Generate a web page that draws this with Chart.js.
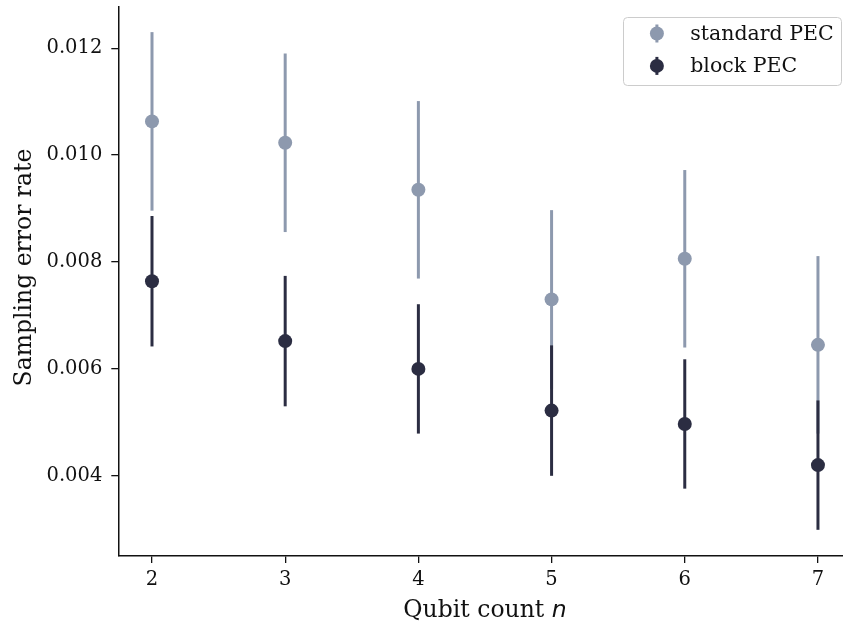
<!DOCTYPE html>
<html>
<head>
<meta charset="utf-8">
<script src="https://cdn.jsdelivr.net/npm/chart.js@4"></script>
<style>
  html, body { margin: 0; padding: 0; background: #fff; }
  #wrap { width: 843px; height: 623px; }
</style>
</head>
<body>
<div id="wrap"><canvas id="errChart" width="843" height="623"></canvas></div>
<script>
// values
const qubits = [2, 3, 4, 5, 6, 7];
const standardRate = [0.01063, 0.01023, 0.00935, 0.00730, 0.00806, 0.00645];
const standardErr  = [0.00167, 0.00167, 0.00166, 0.00167, 0.00166, 0.00166];
const blockRate    = [0.00764, 0.00652, 0.00600, 0.00522, 0.00497, 0.00420];
const blockErr     = [0.00122, 0.00122, 0.00121, 0.00122, 0.00121, 0.00121];
const yTicks = [0.004, 0.006, 0.008, 0.010, 0.012];
const xTicks = [2, 3, 4, 5, 6, 7];
const seriesLabels = ['standard PEC', 'block PEC'];
const seriesColors = ['#8d99ae', '#2b2d42'];

const INK = '#111111';
const SERIF = '"DejaVu Serif", serif';

// vertical error bars, drawn under each dataset's markers
const errorBars = {
  id: 'errorBars',
  beforeDatasetDraw(chart, args) {
    const ds = chart.data.datasets[args.index];
    const y = chart.scales.y, ctx = chart.ctx;
    ctx.save();
    ctx.strokeStyle = ds.backgroundColor;
    ctx.lineWidth = 3;
    args.meta.data.forEach((pt, i) => {
      const v = ds.data[i].y, e = ds.errors[i];
      ctx.beginPath();
      ctx.moveTo(pt.x, y.getPixelForValue(v + e));
      ctx.lineTo(pt.x, y.getPixelForValue(v - e));
      ctx.stroke();
    });
    ctx.restore();
  }
};

// matplotlib-like legend box + axis titles (x title has an italic n)
const decorations = {
  id: 'decorations',
  afterDraw(chart) {
    const ctx = chart.ctx, area = chart.chartArea;
    const xs = chart.scales.x;

    // legend
    const w = 218, h = 68;
    const x0 = area.right - 1.5 - w, y0 = area.top + 10.5;
    ctx.save();
    ctx.beginPath();
    ctx.roundRect(x0, y0, w, h, 4);
    ctx.fillStyle = 'rgba(255,255,255,0.8)';
    ctx.fill();
    ctx.strokeStyle = '#cccccc';
    ctx.lineWidth = 1;
    ctx.stroke();
    ctx.font = '20.5px ' + SERIF;
    ctx.textBaseline = 'middle';
    ctx.textAlign = 'left';
    chart.data.datasets.forEach((ds, i) => {
      const cy = y0 + 16 + i * 32.4, cx = x0 + 33.4;
      ctx.strokeStyle = ds.backgroundColor;
      ctx.lineWidth = 3;
      ctx.beginPath();
      ctx.moveTo(cx, cy - 9);
      ctx.lineTo(cx, cy + 9);
      ctx.stroke();
      ctx.beginPath();
      ctx.arc(cx, cy, 7, 0, Math.PI * 2);
      ctx.fillStyle = ds.backgroundColor;
      ctx.fill();
      ctx.fillStyle = INK;
      ctx.fillText(ds.label, x0 + 66.7, cy + 1);
    });

    // x title: "Qubit count n"
    const a = 'Qubit count ', b = 'n';
    ctx.font = '23.5px ' + SERIF;
    const wa = ctx.measureText(a).width;
    ctx.font = 'italic 23.5px "DejaVu Sans", sans-serif';
    const wb = ctx.measureText(b).width;
    const mid = xs.getPixelForValue((xTicks[0] + xTicks[xTicks.length - 1]) / 2);
    const start = mid - (wa + wb) / 2;
    ctx.textBaseline = 'alphabetic';
    ctx.fillStyle = INK;
    ctx.font = '23.5px ' + SERIF;
    ctx.fillText(a, start, 617);
    ctx.font = 'italic 23.5px "DejaVu Sans", sans-serif';
    ctx.fillText(b, start + wa, 617);

    // y title
    ctx.translate(25, 267.5);
    ctx.rotate(-Math.PI / 2);
    ctx.font = '23.5px ' + SERIF;
    ctx.textAlign = 'center';
    ctx.textBaseline = 'middle';
    ctx.fillText('Sampling error rate', 0, 0);
    ctx.restore();
  }
};

const axisStyle = {
  grid: { drawOnChartArea: false, tickLength: 7, color: INK, lineWidth: 1.3 },
  border: { display: true, color: INK, width: 1.5 },
};

// no extra room for overflowing tick labels; the figure is tightly cropped
const noLabelPadding = s => {
  s.paddingTop = 0; s.paddingBottom = 0; s.paddingLeft = 0; s.paddingRight = 0;
};

new Chart(document.getElementById('errChart'), {
  type: 'scatter',
  data: {
    datasets: [
      {
        label: seriesLabels[0],
        data: qubits.map((q, i) => ({ x: q, y: standardRate[i] })),
        errors: standardErr,
        backgroundColor: seriesColors[0],
        order: 1,
      },
      {
        label: seriesLabels[1],
        data: qubits.map((q, i) => ({ x: q, y: blockRate[i] })),
        errors: blockErr,
        backgroundColor: seriesColors[1],
        order: 0,
      },
    ]
  },
  options: {
    responsive: false,
    animation: false,
    layout: { autoPadding: false, padding: { top: 7, right: 0, left: 0, bottom: 0 } },
    elements: { point: { radius: 7, hoverRadius: 7, borderWidth: 0 } },
    plugins: { legend: { display: false }, tooltip: { enabled: false } },
    scales: {
      x: {
        type: 'linear', min: 1.747, max: 7.188,
        ...axisStyle,
        afterBuildTicks: s => { s.ticks = xTicks.map(v => ({ value: v })); },
        afterFit: s => { s.height = 67; noLabelPadding(s); },
        ticks: { color: INK, padding: 5, font: { family: SERIF, size: 19.5 }, maxRotation: 0 },
      },
      y: {
        type: 'linear', min: 0.0025, max: 0.01277,
        ...axisStyle,
        afterBuildTicks: s => { s.ticks = yTicks.map(v => ({ value: v })); },
        afterFit: s => { s.width = 118.3; noLabelPadding(s); },
        ticks: { color: INK, padding: 9, font: { family: SERIF, size: 19.5 }, callback: v => v.toFixed(3) },
      }
    }
  },
  plugins: [errorBars, decorations]
});
</script>
</body>
</html>
